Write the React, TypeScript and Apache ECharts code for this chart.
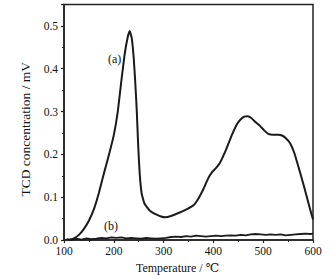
import React, { useEffect, useRef } from "react";
import * as echarts from "echarts";

const curveA: [number, number][] = [
  [112, 0.001], [120, 0.004], [130, 0.012], [140, 0.026], [150, 0.045], [160, 0.072],
  [170, 0.11], [180, 0.155], [190, 0.198], [200, 0.245], [208, 0.3], [216, 0.38],
  [222, 0.435], [228, 0.474], [232, 0.488], [236, 0.472], [240, 0.425], [243, 0.37],
  [246, 0.305], [249, 0.22], [252, 0.155], [256, 0.108], [262, 0.084], [273, 0.068],
  [285, 0.06], [295, 0.055], [303, 0.053], [315, 0.056], [330, 0.063], [345, 0.071],
  [360, 0.081], [370, 0.097], [380, 0.119], [390, 0.145], [397, 0.158], [405, 0.168],
  [413, 0.18], [425, 0.21], [437, 0.245], [447, 0.27], [455, 0.282], [462, 0.288],
  [469, 0.289], [476, 0.285], [485, 0.275], [494, 0.266], [502, 0.256], [510, 0.248],
  [520, 0.246], [530, 0.246], [538, 0.244], [545, 0.238], [554, 0.226], [562, 0.205],
  [568, 0.182], [574, 0.158], [582, 0.125], [590, 0.09], [597, 0.06], [600, 0.048],
];

const curveB: [number, number][] = [
  [105, 0.002], [115, 0.0], [125, 0.003], [135, 0.001], [145, 0.004], [155, 0.002],
  [165, 0.003], [175, 0.005], [185, 0.004], [195, 0.006], [205, 0.005], [215, 0.006],
  [225, 0.004], [235, 0.005], [245, 0.004], [255, 0.003], [265, 0.005], [275, 0.004],
  [285, 0.003], [295, 0.004], [305, 0.005], [315, 0.007], [325, 0.008], [335, 0.007],
  [345, 0.009], [355, 0.008], [365, 0.01], [375, 0.009], [385, 0.008], [395, 0.009],
  [405, 0.01], [415, 0.009], [425, 0.01], [435, 0.011], [445, 0.01], [455, 0.012],
  [465, 0.011], [475, 0.013], [485, 0.014], [495, 0.013], [505, 0.012], [515, 0.013],
  [525, 0.012], [535, 0.013], [545, 0.011], [555, 0.012], [565, 0.013], [575, 0.014],
  [585, 0.015], [595, 0.014], [600, 0.015],
];

const xTitle = "Temperature / ℃";
const yTitle = "TCD concentration / mV";
const labelA = "(a)";
const labelB = "(b)";

export default function App() {
  const ref = useRef<HTMLDivElement>(null);
  useEffect(() => {
    if (!ref.current) return;
    const chart = echarts.init(ref.current, null, { renderer: "svg" });
    const font = "'Liberation Serif', 'DejaVu Serif', serif";
    const axisCommon = {
      axisLine: { show: true, lineStyle: { color: "#222", width: 1.5 } },
      axisTick: { show: true, inside: false, length: 3, lineStyle: { color: "#222", width: 1.2 } },
      minorTick: { show: true, splitNumber: 2, length: 2, lineStyle: { color: "#222", width: 1 } },
      splitLine: { show: false },
    };
    chart.setOption({
      animation: false,
      backgroundColor: "#fff",
      grid: {
        left: 64,
        right: 21,
        top: 4.5,
        bottom: 38,
        show: true,
        borderColor: "#222",
        borderWidth: 1.5,
      },
      xAxis: {
        type: "value",
        min: 100,
        max: 600,
        interval: 100,
        name: xTitle,
        nameLocation: "middle",
        nameGap: 22,
        nameTextStyle: { color: "#111", fontSize: 12, fontFamily: font, padding: [0, 22, 0, 0] },
        ...axisCommon,
        axisLabel: { color: "#111", fontSize: 11.5, fontFamily: font, margin: 5 },
      },
      yAxis: {
        type: "value",
        min: 0,
        max: 0.55,
        interval: 0.1,
        name: yTitle,
        nameLocation: "middle",
        nameGap: 26,
        nameTextStyle: { color: "#111", fontSize: 13.5, fontFamily: font, padding: [0, 14, 0, 0] },
        ...axisCommon,
        axisLabel: {
          color: "#111",
          fontSize: 11.5,
          fontFamily: font,
          margin: 6,
          showMaxLabel: false,
          formatter: (v: number) => v.toFixed(1),
        },
      },
      graphic: [
        { type: "text", left: 108, top: 53, style: { text: labelA, fontSize: 12, fontFamily: font, fill: "#111" } },
        { type: "text", left: 104, top: 220, style: { text: labelB, fontSize: 12, fontFamily: font, fill: "#111" } },
      ],
      series: [
        {
          type: "line",
          data: curveA,
          showSymbol: false,
          smooth: 0.12,
          lineStyle: { color: "#1a1a1a", width: 2 },
        },
        {
          type: "line",
          data: curveB,
          showSymbol: false,
          lineStyle: { color: "#1a1a1a", width: 1.8 },
        },
      ],
    });
    return () => chart.dispose();
  }, []);
  return (
    <div
      ref={ref}
      style={{ position: "fixed", left: 0, top: 0, width: 334, height: 279 }}
    />
  );
}
